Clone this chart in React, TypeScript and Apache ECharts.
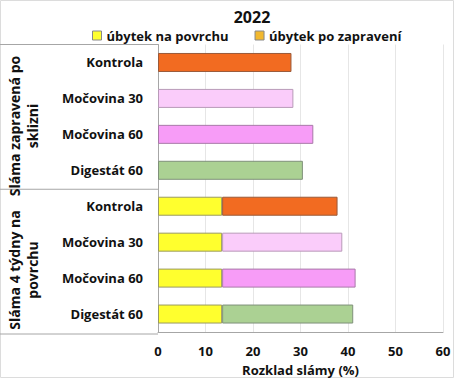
import React, { useEffect, useRef } from "react";
import * as echarts from "echarts";

const categories = [
  "Kontrola",
  "Močovina 30",
  "Močovina 60",
  "Digestát 60",
  "Kontrola",
  "Močovina 30",
  "Močovina 60",
  "Digestát 60",
];
const groupLabels = [
  ["Sláma zapravená po", "sklizni"],
  ["Sláma 4 týdny na", "povrchu"],
];
const surfaceLoss = [null, null, null, null, 13.5, 13.5, 13.5, 13.5];
const incorporatedLoss = [28.1, 28.5, 32.7, 30.5, 24.3, 25.3, 28.1, 27.6];
const barColors = ["#F26B21", "#FACCFA", "#F79CF7", "#ABD193", "#F26B21", "#FACCFA", "#F79CF7", "#ABD193"];
const barBorders = ["#9a5a3a", "#b89ab8", "#a87aa8", "#7f907a", "#9a5a3a", "#b89ab8", "#a87aa8", "#7f907a"];
const xTicks = [0, 60, 10];

const FONT = "'Open Sans', 'Noto Sans', sans-serif";

export default function App() {
  const ref = useRef<HTMLDivElement>(null);
  useEffect(() => {
    if (!ref.current) return;
    const chart = echarts.init(ref.current, null, { renderer: "svg" });
    const top = 44.5;
    const bottom = 334;
    const mid = (top + bottom) / 2;
    const groupText = (lines: string[], x: number, y: number) => ({
      type: "group",
      x,
      y,
      rotation: Math.PI / 2,
      children: lines.map((t, i) => ({
        type: "text",
        x: 0,
        y: i * 18,
        style: {
          text: t,
          x: 0,
          y: 0,
          align: "center",
          verticalAlign: "middle",
          font: `bold 14px ${FONT}`,
          fill: "#111",
        },
      })),
    });
    chart.setOption({
      animation: false,
      backgroundColor: "#fff",
      title: {
        text: "2022",
        left: 247,
        top: 4,
        textAlign: "center",
        textStyle: { fontFamily: FONT, fontWeight: "bold", fontSize: 16, color: "#111" },
      },
      legend: {
        top: 24,
        left: 87,
        itemWidth: 9,
        itemHeight: 9,
        itemGap: 26,
        icon: "rect",
        textStyle: { fontFamily: FONT, fontWeight: "bold", fontSize: 13, color: "#111" },
        data: [
          { name: "úbytek na povrchu", itemStyle: { color: "#FFFF2E", borderColor: "#888", borderWidth: 1 } },
          { name: "úbytek po zapravení", itemStyle: { color: "#F2B82E", borderColor: "#888", borderWidth: 1 } },
        ],
      },
      grid: { left: 158, right: 13, top: top, bottom: 381 - bottom },
      xAxis: {
        type: "value",
        min: xTicks[0],
        max: xTicks[1],
        interval: xTicks[2],
        name: "Rozklad slámy (%)",
        nameLocation: "middle",
        nameGap: 31,
        nameTextStyle: { fontFamily: FONT, fontWeight: "bold", fontSize: 13, color: "#111" },
        axisLine: { show: true, lineStyle: { color: "#a6a6a6", width: 1 } },
        axisTick: { show: false },
        axisLabel: { margin: 12, fontFamily: FONT, fontWeight: "bold", fontSize: 13, color: "#111" },
        splitLine: { show: true, lineStyle: { color: "#e6e6e6", width: 1 } },
      },
      yAxis: {
        type: "category",
        inverse: true,
        data: categories,
        axisLine: { show: true, lineStyle: { color: "#a6a6a6", width: 1 } },
        axisTick: { show: false },
        axisLabel: { margin: 15, fontFamily: FONT, fontWeight: "bold", fontSize: 13, color: "#111" },
        splitLine: { show: false },
      },
      series: [
        {
          name: "úbytek na povrchu",
          type: "bar",
          stack: "total",
          barWidth: 19,
          data: surfaceLoss,
          itemStyle: { color: "#FFFF2E", borderColor: "#9a9a60", borderWidth: 1 },
        },
        {
          name: "úbytek po zapravení",
          type: "bar",
          stack: "total",
          barWidth: 19,
          data: incorporatedLoss.map((v, i) => ({
            value: v,
            itemStyle: { color: barColors[i], borderColor: barBorders[i], borderWidth: 1 },
          })),
          itemStyle: { color: "#F2B82E" },
        },
      ],
      graphic: [
        { type: "rect", shape: { x: 0.5, y: 0.5, width: 453, height: 377 }, style: { fill: "none", stroke: "#dcdcdc", lineWidth: 1 }, silent: true },
        { type: "line", shape: { x1: 0, y1: top, x2: 158, y2: top }, style: { stroke: "#a6a6a6", lineWidth: 1 } },
        { type: "line", shape: { x1: 0, y1: mid, x2: 158, y2: mid }, style: { stroke: "#a6a6a6", lineWidth: 1 } },
        { type: "line", shape: { x1: 0, y1: bottom, x2: 158, y2: bottom }, style: { stroke: "#a6a6a6", lineWidth: 1 } },
        groupText(groupLabels[0], 14, 126),
        groupText(groupLabels[1], 14, 270),
      ],
    });
    return () => chart.dispose();
  }, []);
  return <div ref={ref} style={{ width: 456, height: 381, position: "absolute", left: 0, top: 0 }} />;
}
